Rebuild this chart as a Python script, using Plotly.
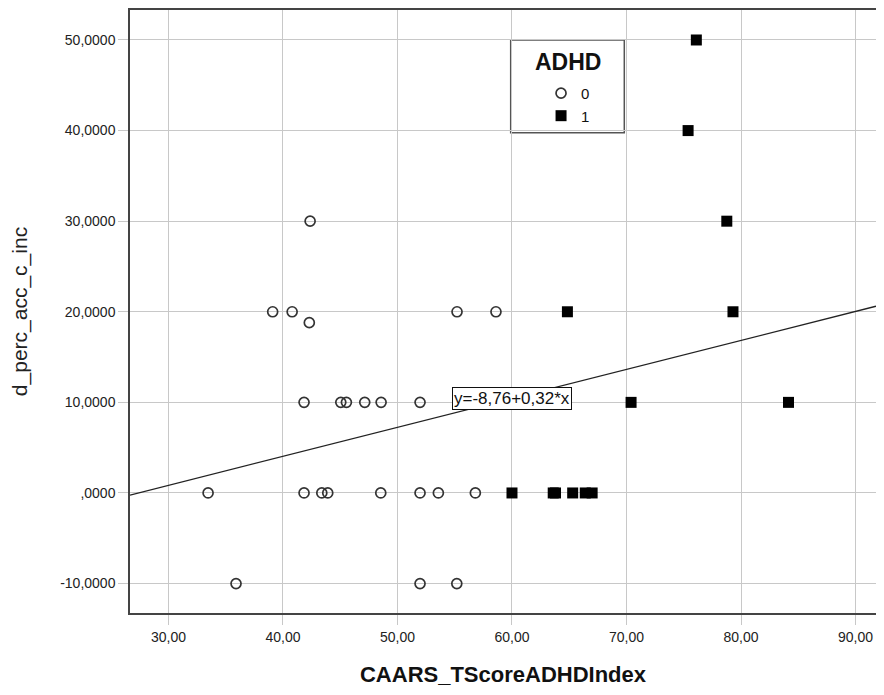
import plotly.graph_objects as go

# ADHD = 0 (open circles)
x0 = [42.37, 39.1, 40.8, 55.2, 58.6, 42.3,
      41.84, 45.05, 45.54, 47.14, 48.57, 51.97,
      33.46, 41.84, 43.39, 43.91, 48.54, 51.97, 53.57, 56.80,
      35.9, 51.97, 55.18]
y0 = [30, 20, 20, 20, 20, 18.8,
      10, 10, 10, 10, 10, 10,
      0, 0, 0, 0, 0, 0, 0, 0,
      -10, -10, -10]

# ADHD = 1 (filled squares)
x1 = [76.1, 75.38, 78.76, 64.84, 79.3, 70.4, 84.15,
      60.0, 63.6, 63.8, 65.3, 66.4, 67.0]
y1 = [50, 40, 30, 20, 20, 10, 10,
      0, 0, 0, 0, 0, 0]

intercept = -8.76
slope = 0.32
x_range = [26.64, 91.79]
y_range = [-13.25, 53.31]
x_ticks = [30, 40, 50, 60, 70, 80, 90]
x_ticklabels = ["30,00", "40,00", "50,00", "60,00", "70,00", "80,00", "90,00"]
y_ticks = [-10, 0, 10, 20, 30, 40, 50]
y_ticklabels = ["-10,0000", ",0000", "10,0000", "20,0000", "30,0000", "40,0000", "50,0000"]
eq_text = "y=-8,76+0,32*x"

FONT = "Liberation Sans, Arial, sans-serif"

fig = go.Figure()

line_x = [x_range[0], x_range[1]]
line_y = [intercept + slope * v for v in line_x]
fig.add_trace(go.Scatter(x=line_x, y=line_y, mode="lines",
                         line=dict(color="#222222", width=1.3),
                         showlegend=False, hoverinfo="skip"))

fig.add_trace(go.Scatter(x=x0, y=y0, mode="markers", name="0",
                         marker=dict(symbol="circle-open", size=10,
                                     color="#333333", line=dict(width=1.7, color="#333333"))))
fig.add_trace(go.Scatter(x=x1, y=y1, mode="markers", name="1",
                         marker=dict(symbol="square", size=11, color="#000000",
                                     line=dict(width=0))))

eq_x = 60
fig.add_annotation(x=eq_x, y=intercept + slope * eq_x, text=eq_text, showarrow=False,
                   xanchor="center", yanchor="middle",
                   font=dict(family=FONT, size=17, color="#111111"),
                   bgcolor="white", bordercolor="#111111", borderwidth=1, borderpad=1)

# legend box and title
fig.add_shape(type="rect", xref="paper", yref="paper",
              x0=0.5103, x1=0.6626, y0=0.7965, y1=0.9503,
              line=dict(color="#555555", width=1.5), fillcolor="white", layer="below")
fig.add_annotation(xref="paper", yref="paper", x=0.5865, y=0.9144, text="<b>ADHD</b>",
                   xanchor="center", yanchor="middle",
                   showarrow=False, font=dict(family=FONT, size=23, color="#111111"))

fig.update_layout(
    width=868, height=679,
    margin=dict(l=122, r=0, t=2, b=74.3, autoexpand=False),
    paper_bgcolor="white", plot_bgcolor="white",
    font=dict(family=FONT, color="#222222"),
    legend=dict(x=0.551, y=0.889, xanchor="left", yanchor="top",
                bgcolor="rgba(0,0,0,0)", borderwidth=0,
                font=dict(family=FONT, size=15, color="#111111"),
                itemwidth=30, tracegroupgap=0),
    xaxis=dict(range=x_range, tickvals=x_ticks, ticktext=x_ticklabels,
               automargin=False,
               showgrid=True, gridcolor="#c8c8c8", gridwidth=1,
               showline=True, linecolor="#444444", linewidth=1.5, mirror=True,
               ticks="outside", ticklen=10, tickcolor="#c8c8c8",
               tickfont=dict(family=FONT, size=14, color="#222222"),
               zeroline=False,
               title=dict(text="<b>CAARS_TScoreADHDIndex</b>",
                          font=dict(family=FONT, size=22, color="#111111"), standoff=24)),
    yaxis=dict(range=y_range, tickvals=y_ticks, ticktext=y_ticklabels,
               automargin=False,
               showgrid=True, gridcolor="#c8c8c8", gridwidth=1,
               showline=True, linecolor="#444444", linewidth=1.5, mirror=False,
               ticks="outside", ticklen=10, tickcolor="#c8c8c8",
               tickfont=dict(family=FONT, size=14, color="#222222"),
               zeroline=False,
               title=dict(text="d_perc_acc_c_inc",
                          font=dict(family=FONT, size=21, color="#222222"), standoff=28)),
)

fig.write_html("out.html")
